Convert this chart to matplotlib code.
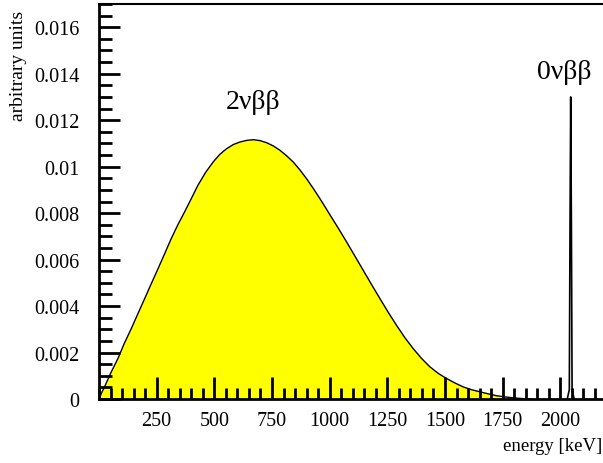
import numpy as np
import matplotlib
matplotlib.use('Agg')
import matplotlib.pyplot as plt
from matplotlib.ticker import MultipleLocator, FuncFormatter

# 2 neutrino spectrum
energy_2nu = [0, 12, 24, 50, 82, 110, 140, 170, 198, 227, 256, 285, 313, 342,
              371, 400, 429, 462, 495, 524, 553, 582, 611, 640, 669, 698, 727,
              756, 785, 813, 842, 871, 900, 929, 958, 980, 1001, 1038, 1074,
              1110, 1146, 1182, 1218, 1254, 1290, 1326, 1362, 1398, 1435, 1471,
              1507, 1543, 1579, 1615, 1651, 1688, 1724, 1760, 1796, 1832, 1868]
counts_2nu = [0.0, 0.00028, 0.00052, 0.0011, 0.00174, 0.0024, 0.00303,
              0.0037, 0.00432, 0.00497, 0.00561, 0.00626, 0.0069, 0.0075,
              0.00805, 0.00862, 0.0092, 0.00975, 0.0102, 0.01053, 0.01077,
              0.01095, 0.01106, 0.01113, 0.01116, 0.01112, 0.01103, 0.01089,
              0.0107, 0.01047, 0.0102, 0.00986, 0.00948, 0.00906, 0.00862,
              0.00827, 0.00793, 0.00734, 0.00675, 0.00614, 0.00553, 0.00492,
              0.00432, 0.00373, 0.00317, 0.00264, 0.00217, 0.00175, 0.00138,
              0.0011, 0.00088, 0.00069, 0.00052, 0.0004, 0.00031, 0.00022,
              0.00014, 0.00009, 0.00005, 0.00002, 0.0]

# 0 neutrino peak
energy_0nu = [2030, 2039, 2042, 2045, 2048, 2051, 2060]
counts_0nu = [0.0, 0.0004, 0.0075, 0.013, 0.0075, 0.0004, 0.0]

xticks = [250, 500, 750, 1000, 1250, 1500, 1750, 2000]

plt.rcParams['font.family'] = ['Liberation Serif', 'DejaVu Serif']

fig = plt.figure(figsize=(6.03, 4.64), dpi=100)
ax = fig.add_axes([99 / 603, 64 / 464, 1 - 99 / 603, 395 / 464])

ax.fill_between(energy_2nu, counts_2nu, color='#ffff00', lw=0)
ax.plot(energy_2nu, counts_2nu, color='black', lw=1.0)
ax.plot(energy_0nu, counts_0nu, color='black', lw=1.2)

ax.set_xlim(0, 2185)
ax.set_ylim(0, 0.017)

ax.set_xticks(xticks)
ax.xaxis.set_minor_locator(MultipleLocator(50))
ax.yaxis.set_major_locator(MultipleLocator(0.002))
ax.yaxis.set_minor_locator(MultipleLocator(0.0005))
ax.yaxis.set_major_formatter(FuncFormatter(lambda v, p: '%g' % round(v, 4)))

ax.tick_params(which='both', direction='in', colors='black', width=2,
               labelsize=14.5, top=False, right=False)
ax.tick_params(axis='x', which='major', length=16, pad=9)
ax.tick_params(axis='x', which='minor', length=8)
ax.tick_params(axis='y', which='major', length=15, pad=14)
ax.tick_params(axis='y', which='minor', length=9)

ax.spines['right'].set_visible(False)
for s in ['left', 'bottom']:
    ax.spines[s].set_linewidth(2)
ax.spines['top'].set_linewidth(1.5)

# axis titles, ROOT style (placed in figure coords so they stay inside)
fig.text(19 / 603, 1 - 11 / 464, 'arbitrary units', fontsize=14,
         rotation=90, ha='center', va='top')
fig.text(1 - 1 / 603, 1 - 447 / 464, 'energy [keV]', fontsize=13.5,
         ha='right', va='center')

ax.text(668, 0.0128, '2νββ', fontsize=20, ha='center', va='center')
ax.text(2015, 0.0141, '0νββ', fontsize=20, ha='center', va='center')

fig.savefig('out.png', dpi=100)
